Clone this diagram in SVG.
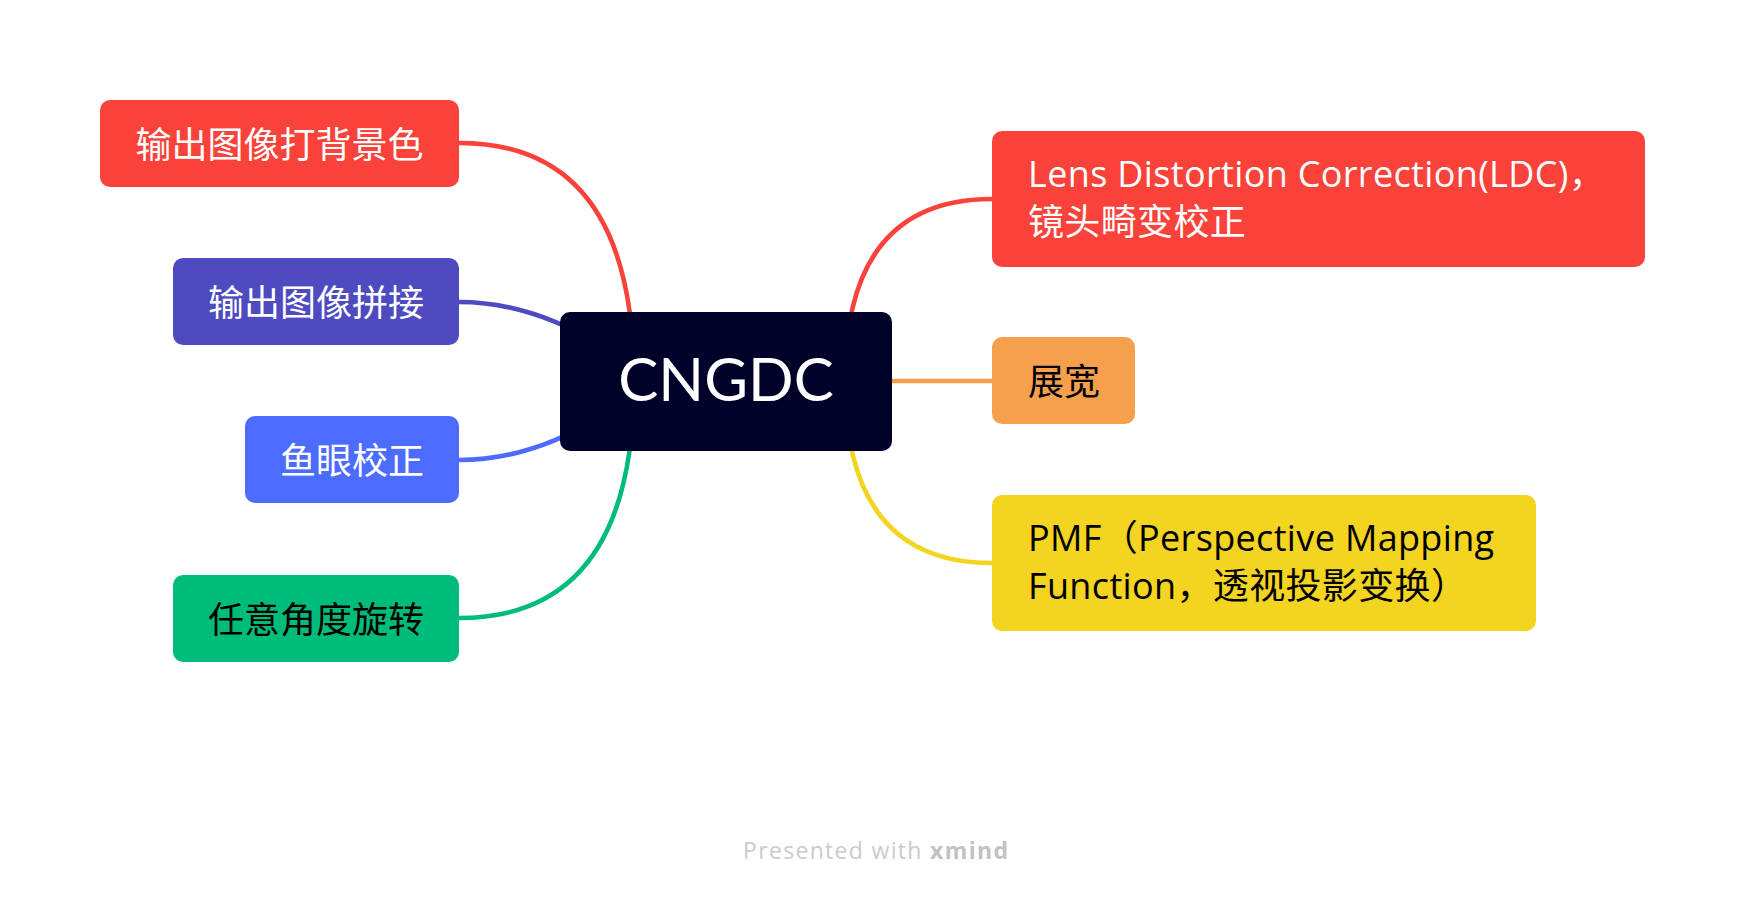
<svg xmlns="http://www.w3.org/2000/svg" width="1746" height="902" viewBox="0 0 1746 902">
<style>
.lbl{font-family:"Open Sans","Noto Sans CJK SC",sans-serif;font-size:36px;letter-spacing:0.35px}
.cjk{font-family:"Noto Sans CJK SC",sans-serif;font-size:36px}
.w{fill:#ffffff}
.k{fill:#000000}
.con{fill:none;stroke-width:4.5;stroke-linecap:round}
</style>
<rect width="1746" height="902" fill="#ffffff"/>
<g id="connectors">
<path class="con" stroke="#F9423A" d="M459,143 Q634,143 634,381"/>
<path class="con" stroke="#4E4AC0" d="M459,302 Q530,302 600,345"/>
<path class="con" stroke="#4C6CFF" d="M459,460 Q530,460 600,417"/>
<path class="con" stroke="#00BC7B" d="M459,618 Q634,618 634,381"/>
<path class="con" stroke="#F9423A" d="M992,199 Q845,199 845,381"/>
<path class="con" stroke="#F6A04D" d="M850,381 L992,381"/>
<path class="con" stroke="#F2D421" d="M992,563 Q845,563 845,381"/>
</g>
<g id="root">
<rect x="560" y="312" width="332" height="139" rx="10" fill="#000229"/>
<text x="726" y="401" text-anchor="middle" font-family="Lato,sans-serif" font-size="60" fill="#ffffff">CNGDC</text>
</g>
<g id="n-bg">
<rect x="100" y="100" width="359" height="87" rx="10" fill="#F9423A"/>
<text class="cjk w" x="279.5" y="158" text-anchor="middle">输出图像打背景色</text>
</g>
<g id="n-stitch">
<rect x="173" y="258" width="286" height="87" rx="10" fill="#4E4AC0"/>
<text class="cjk w" x="316" y="316" text-anchor="middle">输出图像拼接</text>
</g>
<g id="n-fisheye">
<rect x="245" y="416" width="214" height="87" rx="10" fill="#4C6CFF"/>
<text class="cjk w" x="352" y="474" text-anchor="middle">鱼眼校正</text>
</g>
<g id="n-rotate">
<rect x="173" y="575" width="286" height="87" rx="10" fill="#00BC7B"/>
<text class="cjk k" x="316" y="632.5" text-anchor="middle">任意角度旋转</text>
</g>
<g id="n-ldc">
<rect x="992" y="131" width="653" height="136" rx="10" fill="#F9423A"/>
<text class="lbl w" x="1028" y="187">Lens Distortion Correction(LDC)，</text>
<text class="lbl w" x="1028" y="235">镜头畸变校正</text>
</g>
<g id="n-widen">
<rect x="992" y="337" width="143" height="87" rx="10" fill="#F6A04D"/>
<text class="cjk k" x="1028" y="395">展宽</text>
</g>
<g id="n-pmf">
<rect x="992" y="495" width="544" height="136" rx="10" fill="#F2D421"/>
<text class="lbl k" x="1028" y="551">PMF（Perspective Mapping</text>
<text class="lbl k" x="1028" y="599">Function，透视投影变换）</text>
</g>
<g id="footer">
<text x="743" y="859" textLength="265" font-family="'Open Sans',sans-serif" font-size="23" fill="#CBCBCB">Presented with <tspan font-weight="bold" fill="#C2C2C2">xmind</tspan></text>
</g>
</svg>
